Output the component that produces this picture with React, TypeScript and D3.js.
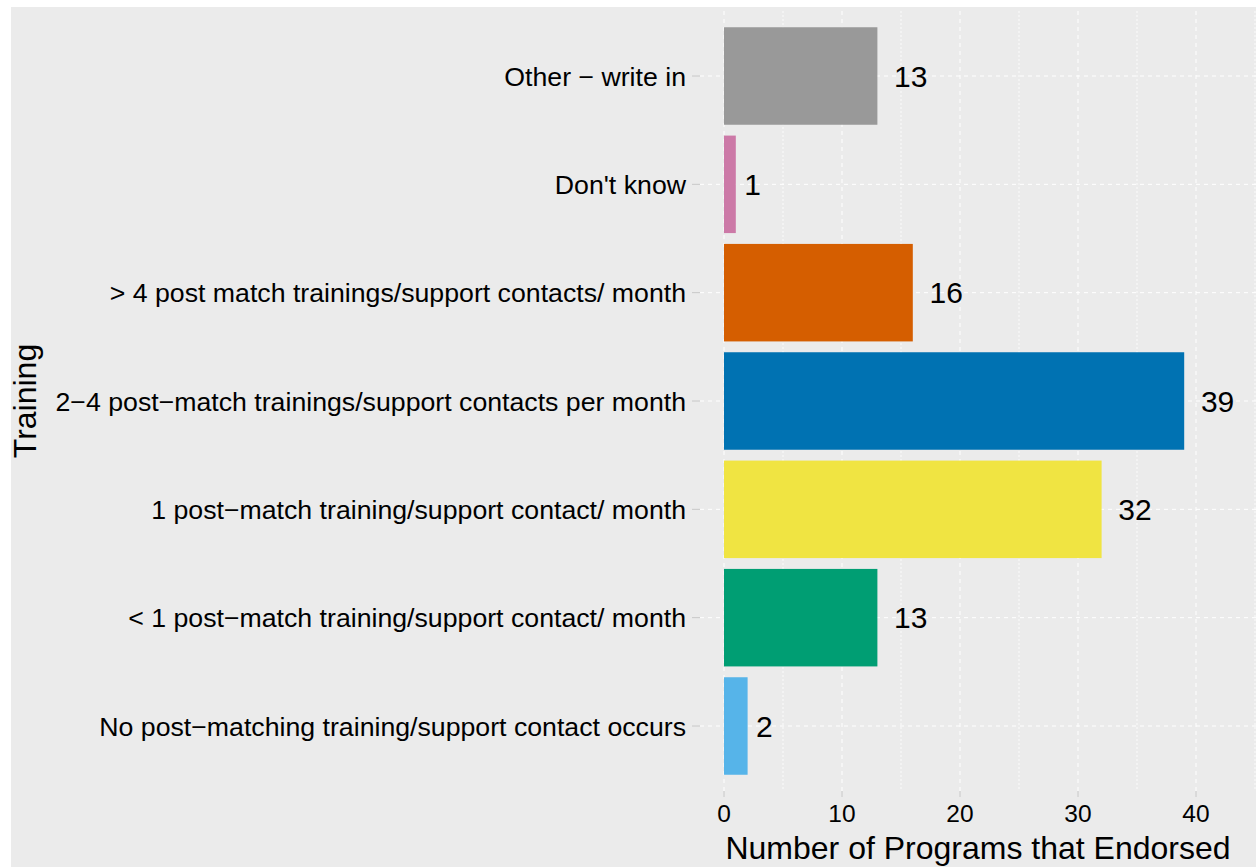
import React from "react";
import * as d3 from "d3";

const categories = [
  "Other \u2212 write in",
  "Don't know",
  "> 4 post match trainings/support contacts/ month",
  "2\u22124 post\u2212match trainings/support contacts per month",
  "1 post\u2212match training/support contact/ month",
  "< 1 post\u2212match training/support contact/ month",
  "No post\u2212matching training/support contact occurs",
];
const values = [13, 1, 16, 39, 32, 13, 2];
const colors = ["#999999", "#CC79A7", "#D55E00", "#0072B2", "#F0E442", "#009E73", "#56B4E9"];
const majorTicks = [0, 10, 20, 30, 40];
const minorTicks = [5, 15, 25, 35, 45];

const W = 1256;
const H = 867;
const panel = { left: 700, right: 1256, top: 11, bottom: 791 };
const FONT = "'Liberation Sans', Arial, Helvetica, sans-serif";
const VALUE_FS = 30;

export default function App() {
  const x = d3.scaleLinear().domain([0, 40]).range([724, 1196]);
  const y = d3
    .scaleBand<string>()
    .domain(categories)
    .range([panel.top, panel.bottom])
    .paddingInner(0.1)
    .paddingOuter(0.15);

  return (
    <div style={{ position: "absolute", left: 0, top: 0, width: W, height: H }}>
      <svg width={W} height={H} style={{ display: "block" }} fontFamily={FONT}>
        <rect x={0} y={0} width={W} height={H} fill="#ffffff" />
        <rect x={11} y={7} width={W - 11} height={H - 7} fill="#ebebeb" />
        {/* minor vertical gridlines */}
        {minorTicks.map((t) => (
          <line
            key={"mn" + t}
            x1={x(t)}
            x2={x(t)}
            y1={panel.top}
            y2={panel.bottom}
            stroke="#ffffff"
            strokeWidth={0.8}
            strokeDasharray="2,2"
          />
        ))}
        {/* major vertical gridlines */}
        {majorTicks.map((t) => (
          <line
            key={"mj" + t}
            x1={x(t)}
            x2={x(t)}
            y1={panel.top}
            y2={panel.bottom}
            stroke="#ffffff"
            strokeWidth={1}
            strokeDasharray="4,4"
          />
        ))}
        {/* horizontal gridlines */}
        {categories.map((c) => {
          const cy = (y(c) as number) + y.bandwidth() / 2;
          return (
            <line
              key={"h" + c}
              x1={panel.left}
              x2={panel.right}
              y1={cy}
              y2={cy}
              stroke="#ffffff"
              strokeWidth={1}
              strokeDasharray="4,4"
            />
          );
        })}
        {/* bars */}
        {categories.map((c, i) => (
          <rect
            key={"b" + c}
            x={x(0)}
            y={y(c) as number}
            width={x(values[i]) - x(0)}
            height={y.bandwidth()}
            fill={colors[i]}
          />
        ))}
        {/* value labels (hjust = -0.5) */}
        {categories.map((c, i) => {
          const cy = (y(c) as number) + y.bandwidth() / 2;
          const label = String(values[i]);
          const tw = label.length * 0.556 * VALUE_FS;
          return (
            <text
              key={"v" + c}
              x={x(values[i]) + 0.5 * tw}
              y={cy}
              dy="0.36em"
              fontSize={VALUE_FS}
              fill="#000"
            >
              {label}
            </text>
          );
        })}
        {/* y ticks and labels */}
        {categories.map((c) => {
          const cy = (y(c) as number) + y.bandwidth() / 2;
          return (
            <g key={"yt" + c}>
              <line x1={692} x2={700} y1={cy} y2={cy} stroke="#c8c8c8" strokeWidth={1} />
              <text x={686} y={cy} dy="0.36em" textAnchor="end" fontSize={26.7} fill="#000">
                {c}
              </text>
            </g>
          );
        })}
        {/* x ticks and labels */}
        {majorTicks.map((t) => (
          <g key={"xt" + t}>
            <line x1={x(t)} x2={x(t)} y1={panel.bottom} y2={panel.bottom + 6} stroke="#c8c8c8" strokeWidth={1} />
            <text x={x(t)} y={822} textAnchor="middle" fontSize={24.5} fill="#000">
              {t}
            </text>
          </g>
        ))}
        {/* axis titles */}
        <text x={(panel.left + panel.right) / 2} y={859} textAnchor="middle" fontSize={32} fill="#000">
          Number of Programs that Endorsed
        </text>
        <text
          transform={`translate(36, ${(panel.top + panel.bottom) / 2}) rotate(-90)`}
          textAnchor="middle"
          fontSize={32}
          fill="#000"
        >
          Training
        </text>
      </svg>
    </div>
  );
}
